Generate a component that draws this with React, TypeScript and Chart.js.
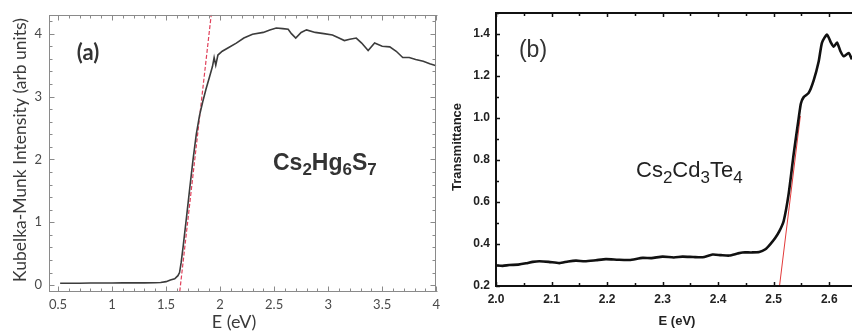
import React, { useEffect, useRef } from "react";
import { Chart, registerables } from "chart.js";

Chart.register(...registerables);

// ---------- Panel (a): Cs2Hg6S7, Kubelka-Munk ----------
const energyA = [0.52, 0.6, 0.7, 0.8, 0.9, 1.0, 1.1, 1.2, 1.3, 1.4, 1.45, 1.5, 1.54, 1.58, 1.61, 1.625, 1.64, 1.66, 1.69, 1.72, 1.75, 1.78, 1.81, 1.84, 1.87, 1.9, 1.93, 1.945, 1.96, 1.98, 2.02, 2.08, 2.15, 2.22, 2.3, 2.4, 2.46, 2.52, 2.58, 2.63, 2.66, 2.7, 2.75, 2.8, 2.88, 2.96, 3.04, 3.1, 3.15, 3.2, 3.26, 3.31, 3.37, 3.43, 3.5, 3.57, 3.63, 3.69, 3.75, 3.81, 3.88, 3.94, 4.0];
const kmA = [0.03, 0.03, 0.03, 0.032, 0.033, 0.033, 0.035, 0.035, 0.035, 0.038, 0.04, 0.055, 0.08, 0.1, 0.15, 0.2, 0.36, 0.64, 1.09, 1.55, 2.0, 2.4, 2.7, 2.92, 3.12, 3.3, 3.48, 3.62, 3.5, 3.66, 3.72, 3.78, 3.85, 3.93, 3.99, 4.02, 4.06, 4.09, 4.08, 4.07, 4.0, 3.93, 4.02, 4.06, 4.02, 4.0, 3.98, 3.93, 3.89, 3.91, 3.93, 3.85, 3.73, 3.85, 3.8, 3.79, 3.72, 3.62, 3.62, 3.59, 3.56, 3.52, 3.49];
const fitEnergyA = [1.627, 1.918];
const fitKmA = [-0.1, 4.3];
const xTicksA = [0.5, 1, 1.5, 2, 2.5, 3, 3.5, 4];
const yTicksA = [0, 1, 2, 3, 4];

// ---------- Panel (b): Cs2Cd3Te4, Transmittance ----------
const energyB = [2.0, 2.012, 2.024, 2.04, 2.054, 2.066, 2.078, 2.095, 2.114, 2.13, 2.144, 2.16, 2.18, 2.198, 2.22, 2.24, 2.264, 2.28, 2.3, 2.32, 2.336, 2.355, 2.372, 2.39, 2.405, 2.42, 2.435, 2.444, 2.46, 2.474, 2.485, 2.494, 2.503, 2.51, 2.518, 2.527, 2.536, 2.545, 2.549, 2.554, 2.563, 2.572, 2.581, 2.587, 2.596, 2.603, 2.608, 2.614, 2.62, 2.626, 2.635, 2.641, 2.648];
const transB = [0.298, 0.296, 0.3, 0.302, 0.308, 0.315, 0.318, 0.315, 0.309, 0.317, 0.321, 0.318, 0.323, 0.328, 0.325, 0.324, 0.334, 0.333, 0.34, 0.336, 0.34, 0.338, 0.337, 0.35, 0.347, 0.345, 0.355, 0.36, 0.36, 0.362, 0.375, 0.4, 0.43, 0.46, 0.51, 0.64, 0.83, 1.0, 1.07, 1.1, 1.12, 1.18, 1.27, 1.36, 1.398, 1.36, 1.34, 1.36, 1.32, 1.295, 1.31, 1.28, 1.26];
const fitEnergyB = [2.5105, 2.548];
const fitTransB = [0.2, 1.01];
const xTicksB = [2.0, 2.1, 2.2, 2.3, 2.4, 2.5, 2.6];
const yTicksB = [0.2, 0.4, 0.6, 0.8, 1.0, 1.2, 1.4];

const toXY = (xs: number[], ys: number[]) => xs.map((x, i) => ({ x, y: ys[i] }));

type FrameCfg = {
  color: string;
  width: number;
  sides: { left: boolean; right: boolean; top: boolean; bottom: boolean };
  xMinor: number;
  xMajor: number;
  yMinor: number;
  yMajor: number;
  majorLen: number;
  minorLen: number;
};

function framePlugin(cfg: FrameCfg) {
  return {
    id: "frame",
    afterDatasetsDraw(chart: any) {
      const { ctx, chartArea } = chart;
      const { left, right, top, bottom } = chartArea;
      const xs = chart.scales.x;
      const ys = chart.scales.y;
      ctx.save();
      ctx.strokeStyle = cfg.color;
      ctx.lineWidth = cfg.width;
      const off = cfg.width % 2 === 1 ? 0.5 : 0;
      const L = Math.round(left) + off;
      const R = Math.round(right) - off;
      const T = Math.round(top) + off;
      const B = Math.round(bottom) - off;
      ctx.beginPath();
      if (cfg.sides.left) { ctx.moveTo(L, T - cfg.width / 2); ctx.lineTo(L, B + cfg.width / 2); }
      if (cfg.sides.right) { ctx.moveTo(R, T); ctx.lineTo(R, B); }
      if (cfg.sides.top) { ctx.moveTo(L - cfg.width / 2, T); ctx.lineTo(R + 2, T); }
      if (cfg.sides.bottom) { ctx.moveTo(L - cfg.width / 2, B); ctx.lineTo(R + 2, B); }
      ctx.stroke();

      ctx.lineWidth = Math.max(1, cfg.width - 0.5);
      ctx.beginPath();
      const isMult = (v: number, s: number) => Math.abs(v / s - Math.round(v / s)) < 1e-6;
      const i0 = Math.ceil(xs.min / cfg.xMinor - 1e-6);
      const i1 = Math.floor(xs.max / cfg.xMinor + 1e-6);
      for (let i = i0; i <= i1; i++) {
        const v = i * cfg.xMinor;
        const len = isMult(v, cfg.xMajor) ? cfg.majorLen : cfg.minorLen;
        const px = Math.round(xs.getPixelForValue(v)) + 0.5;
        if (cfg.sides.bottom) { ctx.moveTo(px, B); ctx.lineTo(px, B - len); }
        if (cfg.sides.top) { ctx.moveTo(px, T); ctx.lineTo(px, T + len); }
      }
      const j0 = Math.ceil(ys.min / cfg.yMinor - 1e-6);
      const j1 = Math.floor(ys.max / cfg.yMinor + 1e-6);
      for (let j = j0; j <= j1; j++) {
        const v = j * cfg.yMinor;
        const len = isMult(v, cfg.yMajor) ? cfg.majorLen : cfg.minorLen;
        const py = Math.round(ys.getPixelForValue(v)) + 0.5;
        if (cfg.sides.left) { ctx.moveTo(L, py); ctx.lineTo(L + len, py); }
        if (cfg.sides.right) { ctx.moveTo(R, py); ctx.lineTo(R - len, py); }
      }
      ctx.stroke();
      ctx.restore();
    },
  };
}

type TextItem = {
  text: string;
  x: number;
  y: number;
  family: string;
  size: number;
  weight: string;
  color: string;
  rotate?: boolean;
  align?: CanvasTextAlign;
  formula?: boolean;
  subSize?: number;
  subShift?: number;
};

function drawFormula(ctx: CanvasRenderingContext2D, t: TextItem) {
  const parts = t.text.match(/[A-Za-z]+|\d+/g) || [];
  let x = t.x;
  ctx.textAlign = "left";
  ctx.textBaseline = "alphabetic";
  for (const p of parts) {
    const isSub = /^\d+$/.test(p);
    ctx.font = `${t.weight} ${isSub ? t.subSize : t.size}px ${t.family}`;
    ctx.fillText(p, x, t.y + (isSub ? t.subShift || 5 : 0));
    x += ctx.measureText(p).width;
  }
}

function textPlugin(items: TextItem[]) {
  return {
    id: "texts",
    afterDraw(chart: any) {
      const ctx: CanvasRenderingContext2D = chart.ctx;
      ctx.save();
      for (const t of items) {
        ctx.fillStyle = t.color;
        if (t.formula) {
          drawFormula(ctx, t);
          continue;
        }
        ctx.font = `${t.weight} ${t.size}px ${t.family}`;
        ctx.textAlign = t.align || "center";
        ctx.textBaseline = "middle";
        if (t.rotate) {
          ctx.save();
          ctx.translate(t.x, t.y);
          ctx.rotate(-Math.PI / 2);
          ctx.fillText(t.text, 0, 0);
          ctx.restore();
        } else {
          ctx.fillText(t.text, t.x, t.y);
        }
      }
      ctx.restore();
    },
  };
}

const FONT_A = "Lato, 'Open Sans', sans-serif";
const FONT_B = "'Liberation Sans', Arial, sans-serif";

export default function App() {
  const refA = useRef<HTMLCanvasElement>(null);
  const refB = useRef<HTMLCanvasElement>(null);

  useEffect(() => {
    document.body.style.margin = "0";
    const chartA = new Chart(refA.current as HTMLCanvasElement, {
      type: "line",
      data: {
        datasets: [
          {
            data: toXY(energyA, kmA),
            borderColor: "#3c3c3c",
            borderWidth: 1.6,
            pointRadius: 0,
            tension: 0,
          },
          {
            data: toXY(fitEnergyA, fitKmA),
            borderColor: "#e0405a",
            borderWidth: 1.2,
            borderDash: [4, 2],
            pointRadius: 0,
          },
        ],
      },
      options: {
        responsive: false,
        animation: false,
        events: [],
        layout: { padding: { left: 0, top: 10, right: 8, bottom: 0 } },
        plugins: { legend: { display: false }, tooltip: { enabled: false } },
        scales: {
          x: {
            type: "linear",
            min: 0.417,
            max: 4,
            afterBuildTicks: (s: any) => { s.ticks = xTicksA.map((v) => ({ value: v })); },
            afterFit: (s: any) => { s.height = 43; },
            grid: { display: false, drawTicks: false },
            border: { display: false },
            ticks: { padding: 5, font: { family: FONT_A, size: 13 }, color: "#4a4a4a", maxRotation: 0, autoSkip: false, callback: (v: any) => String(v) },
          },
          y: {
            type: "linear",
            min: -0.11,
            max: 4.3,
            afterBuildTicks: (s: any) => { s.ticks = yTicksA.map((v) => ({ value: v })); },
            afterFit: (s: any) => { s.width = 49; },
            grid: { display: false, drawTicks: false },
            border: { display: false },
            ticks: { padding: 7, font: { family: FONT_A, size: 13 }, color: "#4a4a4a", autoSkip: false, callback: (v: any) => String(v) },
          },
        },
      } as any,
      plugins: [
        framePlugin({
          color: "#8a8a8a", width: 1,
          sides: { left: true, right: true, top: true, bottom: true },
          xMinor: 0.1, xMajor: 0.5, yMinor: 0.2, yMajor: 1, majorLen: 5, minorLen: 3,
        }),
        textPlugin([
          { text: "Kubelka-Munk Intensity (arb units)", x: 20, y: 150, family: FONT_A, size: 17.5, weight: "normal", color: "#3a3a3a", rotate: true },
          { text: "E (eV)", x: 234, y: 322, family: FONT_A, size: 18, weight: "normal", color: "#3a3a3a" },
          { text: "(a)", x: 88, y: 53, family: FONT_A, size: 22, weight: "bold", color: "#333" },
          { text: "Cs2Hg6S7", x: 273, y: 170, family: FONT_B, size: 23, weight: "bold", color: "#333", formula: true, subSize: 17, subShift: 5 },
        ]),
      ],
    });

    const chartB = new Chart(refB.current as HTMLCanvasElement, {
      type: "line",
      data: {
        datasets: [
          {
            data: toXY(energyB, transB),
            borderColor: "#111",
            borderWidth: 2.6,
            pointRadius: 0,
            tension: 0.2,
          },
          {
            data: toXY(fitEnergyB, fitTransB),
            borderColor: "#e23a3a",
            borderWidth: 1,
            pointRadius: 0,
          },
        ],
      },
      options: {
        responsive: false,
        animation: false,
        events: [],
        layout: { padding: { left: 0, top: 8, right: 0, bottom: 0 } },
        plugins: { legend: { display: false }, tooltip: { enabled: false } },
        scales: {
          x: {
            type: "linear",
            min: 2.0,
            max: 2.641,
            afterBuildTicks: (s: any) => { s.ticks = xTicksB.map((v) => ({ value: v })); },
            afterFit: (s: any) => { s.height = 49; },
            grid: { display: false, drawTicks: false },
            border: { display: false },
            ticks: { padding: 6, font: { family: FONT_B, size: 12, weight: "bold" }, color: "#222", maxRotation: 0, autoSkip: false, callback: (v: any) => Number(v).toFixed(1) },
          },
          y: {
            type: "linear",
            min: 0.2,
            max: 1.5,
            afterBuildTicks: (s: any) => { s.ticks = yTicksB.map((v) => ({ value: v })); },
            afterFit: (s: any) => { s.width = 51; },
            grid: { display: false, drawTicks: false },
            border: { display: false },
            ticks: { padding: 6, font: { family: FONT_B, size: 12, weight: "bold" }, color: "#222", autoSkip: false, callback: (v: any) => Number(v).toFixed(1) },
          },
        },
      } as any,
      plugins: [
        framePlugin({
          color: "#111", width: 2,
          sides: { left: true, right: false, top: true, bottom: true },
          xMinor: 0.05, xMajor: 0.1, yMinor: 0.1, yMajor: 0.2, majorLen: 4, minorLen: 3,
        }),
        textPlugin([
          { text: "Transmittance", x: 12, y: 147, family: FONT_B, size: 13, weight: "bold", color: "#222", rotate: true },
          { text: "E (eV)", x: 232, y: 321, family: FONT_B, size: 13, weight: "bold", color: "#222" },
          { text: "(b)", x: 88, y: 51, family: FONT_B, size: 23, weight: "normal", color: "#333" },
          { text: "Cs2Cd3Te4", x: 191, y: 177, family: FONT_B, size: 22, weight: "normal", color: "#222", formula: true, subSize: 17, subShift: 6 },
        ]),
      ],
    });

    return () => {
      chartA.destroy();
      chartB.destroy();
    };
  }, []);

  return (
    <div style={{ position: "fixed", left: 0, top: 0, width: 852, height: 335, background: "#fff", overflow: "hidden" }}>
      <canvas ref={refA} width={445} height={335} style={{ position: "absolute", left: 0, top: 0, display: "block" }} />
      <canvas ref={refB} width={407} height={335} style={{ position: "absolute", left: 445, top: 0, display: "block" }} />
    </div>
  );
}
